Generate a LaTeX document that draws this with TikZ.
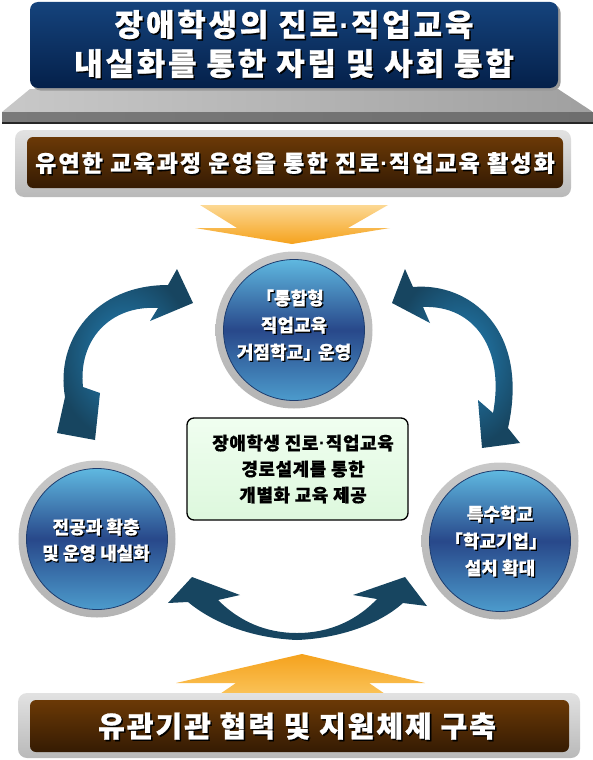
\documentclass[tikz,border=0pt]{standalone}
\usepackage{fontspec}
\newfontfamily\kr{Noto Sans CJK KR}
\newfontfamily\dotfont{Liberation Sans}
\usetikzlibrary{calc}
\definecolor{navyA}{HTML}{15437C}
\definecolor{navyB}{HTML}{04204A}
\definecolor{brownA}{HTML}{6B3906}
\definecolor{brownB}{HTML}{351B03}
\definecolor{frameA}{HTML}{E2E2E2}
\definecolor{frameB}{HTML}{B9B9B9}
\definecolor{orangeA}{HTML}{FCD893}
\definecolor{orangeB}{HTML}{F5A21D}
\definecolor{orangeC}{HTML}{FBC760}
\definecolor{arrowL}{HTML}{2482B8}
\definecolor{arrowD}{HTML}{174560}
\definecolor{ringA}{HTML}{C8C8C8}
\definecolor{ringB}{HTML}{B4B4B4}
\definecolor{diskA}{HTML}{5FB8E0}
\definecolor{diskM}{HTML}{28488A}
\definecolor{diskB}{HTML}{4C9BCC}
\definecolor{diskline}{HTML}{1D3C6E}
\definecolor{greenA}{HTML}{F0FEF0}
\definecolor{greenB}{HTML}{DDF8DD}
\definecolor{pedL}{HTML}{C8C8C8}
\definecolor{pedR}{HTML}{A0A0A0}
\definecolor{barL}{HTML}{7A7A7A}
\definecolor{barM}{HTML}{F2F2F2}
\definecolor{barR}{HTML}{6E6E6E}
\newcommand{\mydot}{\kern0.04em{\dotfont\bfseries ·}\kern0.04em}
\newcommand{\myttlfont}{\kr\bfseries\addfontfeatures{LetterSpace=9,FakeBold=0.8}\fontsize{31}{39}\selectfont}
\newcommand{\mybarfont}{\kr\bfseries\addfontfeatures{LetterSpace=9,FakeBold=0.8}\fontsize{23}{28}\selectfont}
\newcommand{\mybotfont}{\kr\bfseries\addfontfeatures{LetterSpace=7,FakeBold=0.8}\fontsize{29}{34}\selectfont}
\newcommand{\mycirfont}{\kr\bfseries\addfontfeatures{FakeBold=0.5}\fontsize{18}{27}\selectfont}
\newcommand{\mycirfontb}{\kr\bfseries\addfontfeatures{FakeBold=0.5}\fontsize{18}{26}\selectfont}
\newcommand{\mygrnfont}{\kr\bfseries\addfontfeatures{LetterSpace=3,FakeBold=0.5}\fontsize{18}{26}\selectfont}
\begin{document}
\begin{tikzpicture}[x=1pt,y=-1pt,
  wtxt/.style={text=white, align=center, inner sep=0pt},
  stxt/.style={text=black, align=center, inner sep=0pt},
  titlebox/.style={rectangle, rounded corners=8pt, inner sep=0pt, top color=navyA, bottom color=navyB},
  grayframe/.style={rectangle, rounded corners=9pt, inner sep=0pt, top color=frameA, bottom color=frameB},
  brownbox/.style={rectangle, rounded corners=6pt, inner sep=0pt, top color=brownA, bottom color=brownB},
  grayring/.style={circle, inner sep=0pt, minimum size=157pt, top color=ringA, bottom color=ringB},
  bluedisk/.style={circle, inner sep=0pt, minimum size=141pt, draw=diskline, line width=0.8pt, top color=diskA, bottom color=diskB, middle color=diskM},
  greenbox/.style={rectangle, rounded corners=7pt, inner sep=0pt, draw=black, line width=1.3pt, top color=greenA, bottom color=greenB},
  orangedown/.style={top color=orangeA, bottom color=orangeB},
  orangeup/.style={top color=orangeB, bottom color=orangeC},
  curvearrow/.style={inner color=arrowL, outer color=arrowD},
]
\useasboundingbox (0,0) rectangle (593,760);

% pedestal under the title
\shade[left color=pedL, middle color=white, right color=pedR] (30,89) -- (558,89) -- (593,112) -- (2,112) -- cycle;
\shade[left color=barL, middle color=barM, right color=barR] (2,112) rectangle (593,122);
\draw[line width=1.6pt, black!85] (2,123) -- (593,123);

% title
\node[rectangle, rounded corners=8pt, fill=black!40, minimum width=528pt, minimum height=86pt, inner sep=0pt] (titlesh) at (296.5,47.5) {};
\node[titlebox, minimum width=528pt, minimum height=86pt] (title) at (294,45) {};
\node[stxt, font=\myttlfont] (ttlsh) at (295.5,45.5) {장애학생의 진로\mydot 직업교육\\내실화를 통한 자립 및 사회 통합};
\node[wtxt, font=\myttlfont] (ttl) at (294,44) {장애학생의 진로\mydot 직업교육\\내실화를 통한 자립 및 사회 통합};

% top brown bar
\node[grayframe, minimum width=556pt, minimum height=67pt] (topframe) at (293,163.5) {};
\node[brownbox, minimum width=536pt, minimum height=51pt] (topbar) at (295,162.5) {};
\node[stxt, font=\mybarfont] (topbartxtsh) at (296.5,164.5) {유연한 교육과정 운영을 통한 진로\mydot 직업교육 활성화};
\node[wtxt, font=\mybarfont] (topbartxt) at (295,163) {유연한 교육과정 운영을 통한 진로\mydot 직업교육 활성화};

% orange arrows
\shade[orangedown] (200,205) -- (388,205) -- (348,228) -- (390,228) -- (292,244) -- (195,228) -- (237,228) -- cycle;
\shade[orangeup] (302,654) -- (425,683) -- (369,683) -- (394,700) -- (211,700) -- (236,683) -- (176,683) -- cycle;

% bottom brown bar
\node[grayframe, minimum width=562pt, minimum height=65pt] (botframe) at (299,725.5) {};
\node[brownbox, minimum width=539pt, minimum height=52pt] (botbar) at (299.5,726) {};
\node[stxt, font=\mybotfont] (botbartxtsh) at (298.5,727.5) {유관기관 협력 및 지원체제 구축};
\node[wtxt, font=\mybotfont] (botbartxt) at (297,726) {유관기관 협력 및 지원체제 구축};

% curved arrows
\shade[curvearrow] (65,397) .. controls (55,340) and (95,285) .. (168,285) -- (177,269) -- (193,303) -- (150,321) -- (158,308) .. controls (110,305) and (78,340) .. (83,387) -- (100,393) -- (95,440) -- (57,433) -- cycle;
\shade[curvearrow] (413,287) .. controls (470,282) and (530,330) .. (508,428) -- (520,443) -- (482,448) -- (478,400) -- (493,413) .. controls (505,350) and (475,305) .. (423,307) -- (430,323) -- (392,303) -- (405,269) -- cycle;
\shade[left color=arrowD, middle color=arrowL, right color=arrowD] (188,602) .. controls (212,622) and (250,638) .. (297,640) .. controls (344,638) and (382,622) .. (403,603) -- (427,606) -- (405,577) -- (353,595) -- (377,599) .. controls (357,620) and (330,633) .. (297,633) .. controls (264,633) and (238,620) .. (218,600) -- (240,595) -- (192,577) -- (168,603) -- cycle;

% circles
\node[grayring] (ctopring) at (294,330) {};
\node[bluedisk] (ctop) at (294,330) {};
\node[stxt, font=\mycirfont] (ctoptxtsh) at (295.3,326.3) {\hspace*{-0.45em}「통합형\\직업교육\\거점학교」\kern-0.4em{} 운영};
\node[wtxt, font=\mycirfont] (ctoptxt) at (294,325) {\hspace*{-0.45em}「통합형\\직업교육\\거점학교」\kern-0.4em{} 운영};

\node[grayring] (cleftring) at (97,539) {};
\node[bluedisk] (cleft) at (97,539) {};
\node[stxt, font=\mycirfontb] (clefttxtsh) at (97.3,541.3) {전공과 확충\\및 운영 내실화};
\node[wtxt, font=\mycirfontb] (clefttxt) at (96,540) {전공과 확충\\및 운영 내실화};

\node[grayring] (crightring) at (500,541) {};
\node[bluedisk] (cright) at (500,541) {};
\node[stxt, font=\mycirfont] (crighttxtsh) at (501.3,542.3) {특수학교\\\hspace*{-0.45em}「학교기업」\hspace*{-0.45em}\\설치 확대};
\node[wtxt, font=\mycirfont] (crighttxt) at (500,541) {특수학교\\\hspace*{-0.45em}「학교기업」\hspace*{-0.45em}\\설치 확대};

% center green box
\node[greenbox, minimum width=221pt, minimum height=102pt] (gbox) at (297.5,469) {};
\node[stxt, font=\mygrnfont] (gtext) at (303,469) {장애학생 진로\mydot 직업교육\\경로설계를 통한\\개별화 교육 제공};
\end{tikzpicture}
\end{document}
